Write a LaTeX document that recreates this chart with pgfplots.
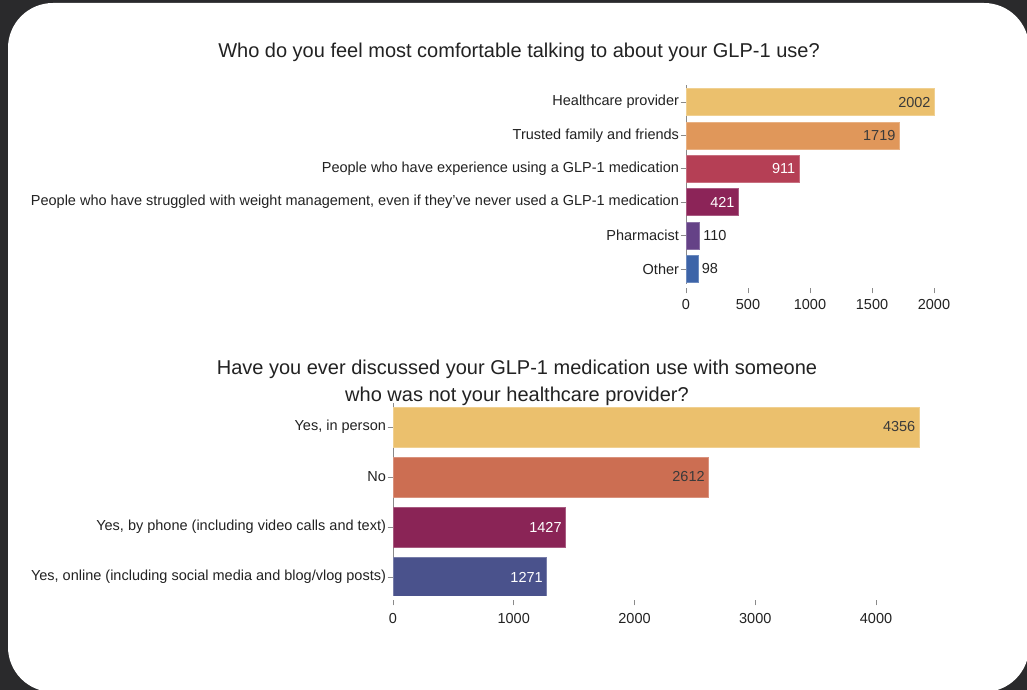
\documentclass[border=0pt]{standalone}
\usepackage{pgfplots}
\pgfplotsset{compat=1.18}
\usepackage{fontspec}
\setmainfont{Liberation Sans}
\definecolor{bg}{HTML}{2A2A2C}
\definecolor{ca}{HTML}{EBC06D}
\definecolor{cb}{HTML}{E0975A}
\definecolor{cc}{HTML}{B53F55}
\definecolor{cd}{HTML}{8C2458}
\definecolor{ce}{HTML}{654287}
\definecolor{cf}{HTML}{3D64A8}
\definecolor{db}{HTML}{CC6E52}
\definecolor{dc}{HTML}{8A2456}
\definecolor{dd}{HTML}{4A528C}
\definecolor{txt}{HTML}{222222}
\definecolor{lbl}{HTML}{3A3A3A}
\definecolor{axc}{HTML}{8A8A8A}
\pgfplotsset{
  /pgf/number format/1000 sep={},
  /pgf/number format/assume math mode=true,
  common/.style={
    scale only axis, anchor=south west,
    xbar, bar shift=0pt,
    axis x line*=bottom, axis y line*=left,
    x axis line style={draw=none},
    y axis line style={draw=axc, line width=0.8pt},
    tick align=outside, major tick length=5.5pt,
    tick style={draw=axc, line width=0.8pt},
    xtick style={yshift=-4pt},
    ticklabel style={font=\fontsize{14.5}{16}\selectfont, text=txt},
    yticklabel style={xshift=2pt},
  },
  inb/.style={fill=#1, draw=#1!75!white, line width=0.8pt, point meta=x,
    nodes near coords, nodes near coords style={anchor=east, text=lbl, font=\fontsize{14.5}{16}\selectfont}},
  inw/.style={fill=#1, draw=#1!75!white, line width=0.8pt, point meta=x,
    nodes near coords, nodes near coords style={anchor=east, text=white, font=\fontsize{14.5}{16}\selectfont}},
  outb/.style={fill=#1, draw=#1!75!white, line width=0.8pt, point meta=x,
    nodes near coords, nodes near coords style={anchor=west, text=txt, font=\fontsize{14.5}{16}\selectfont}},
}
\begin{document}
\begin{tikzpicture}
\clip (0pt,0pt) rectangle (1027pt,690pt);
\fill[bg] (0pt,0pt) rectangle (1027pt,690pt);
\fill[white, rounded corners=45pt] (8pt,-2pt) rectangle (1029pt,687pt);
\node[font=\fontsize{20}{24}\selectfont, text=txt] at (519pt,638pt) {Who do you feel most comfortable talking to about your GLP-1 use?};
\node[font=\fontsize{20}{27}\selectfont, text=txt, align=center] at (517pt,307pt) {Have you ever discussed your GLP-1 medication use with someone\\who was not your healthcare provider?};

\begin{axis}[common,
  at={(686pt,406pt)}, width=274pt, height=199pt,
  bar width=27pt,
  xmin=0, xmax=2209.7, ymin=-0.45, ymax=5.51,
  xtick={0,500,1000,1500,2000},
  xticklabel style={yshift=-6pt},
  ytick={0,1,2,3,4,5},
  yticklabels={Other,Pharmacist,{People who have struggled with weight management, even if they’ve never used a GLP-1 medication},People who have experience using a GLP-1 medication,Trusted family and friends,Healthcare provider},
]
\addplot[inb=ca] coordinates {(2002,5)};
\addplot[inb=cb] coordinates {(1719,4)};
\addplot[inw=cc] coordinates {(911,3)};
\addplot[inw=cd] coordinates {(421,2)};
\addplot[outb=ce] coordinates {(110,1)};
\addplot[outb=cf] coordinates {(98,0)};
\end{axis}

\begin{axis}[common,
  at={(393pt,94pt)}, width=547pt, height=193pt,
  bar width=40pt,
  xmin=0, xmax=4530, ymin=-0.38, ymax=3.48,
  xtick={0,1000,2000,3000,4000},
  xticklabel style={yshift=-8pt},
  ytick={0,1,2,3},
  yticklabels={Yes{,} online (including social media and blog/vlog posts),Yes{,} by phone (including video calls and text),No,Yes{,} in person},
]
\addplot[inb=ca] coordinates {(4356,3)};
\addplot[inb=db] coordinates {(2612,2)};
\addplot[inw=dc] coordinates {(1427,1)};
\addplot[inw=dd] coordinates {(1271,0)};
\end{axis}
\end{tikzpicture}
\end{document}
